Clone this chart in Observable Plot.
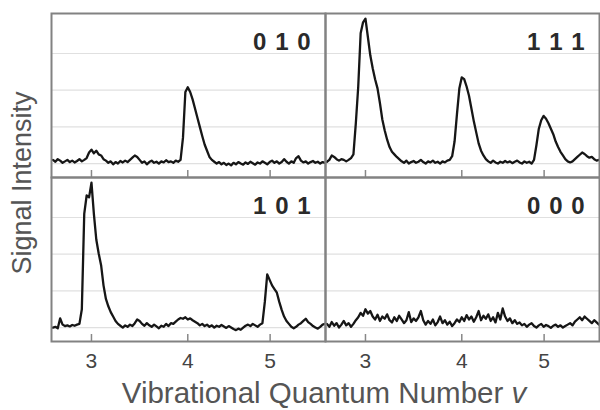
<!DOCTYPE html>
<html><head><meta charset="utf-8">
<script src="https://cdn.jsdelivr.net/npm/d3@7"></script>
<script src="https://cdn.jsdelivr.net/npm/@observablehq/plot@0.6"></script>
<style>
body{margin:0;background:#fff;}
#wrap{position:relative;width:600px;height:410px;font-family:"Liberation Sans",Arial,sans-serif;overflow:hidden;}
#ylab{position:absolute;left:22px;top:183px;transform:translate(-50%,-50%) rotate(-90deg);font-size:27px;color:#555;white-space:nowrap;line-height:1;}
#xlab{position:absolute;left:324px;top:375px;height:35px;line-height:35px;transform:translateX(-50%);font-size:29.5px;color:#555;white-space:nowrap;}
</style></head>
<body>
<div id="wrap">
<div id="chart"></div>
<div id="ylab">Signal Intensity</div>
<div id="xlab">Vibrational Quantum Number <i>v</i></div>
</div>
<script>
// Sampling of the traces along the x axis
const xStart = 2.6, xStep = 0.025;

const panelNames = ["0 1 0", "1 1 1", "1 0 1", "0 0 0"];
const panelCol = [0, 1, 0, 1];
const panelRow = [0, 0, 1, 1];

const signal010 = [1.10,1.05,1.12,1.08,1.02,1.06,1.10,1.04,1.08,1.03,1.07,1.12,1.06,1.10,1.15,
  1.30,1.38,1.28,1.35,1.25,1.22,
  1.12,1.08,1.02,1.06,0.98,1.04,1.00,1.07,1.03,1.08,1.04,1.10,1.16,
  1.22,1.18,1.10,
  1.02,1.06,0.98,1.04,1.08,1.02,1.05,1.00,1.06,1.03,1.09,1.04,1.06,1.02,1.08,1.05,1.10,
  1.70,2.95,3.08,2.95,2.75,2.50,2.25,2.00,1.75,1.52,1.35,1.18,1.10,
  1.05,1.00,1.04,0.98,1.02,0.96,1.00,0.95,1.02,0.98,1.04,1.00,0.97,1.03,0.99,1.05,1.01,0.97,1.03,1.00,
  1.06,1.02,0.98,1.04,1.08,1.02,1.06,1.00,1.04,1.12,1.05,1.00,1.06,1.02,1.15,1.20,1.08,1.03,1.06,1.00,
  1.04,1.07,1.02,1.05,1.00,1.04,1.02];

const signal111 = [1.05,1.10,1.22,1.18,1.12,1.08,1.12,1.10,1.06,1.10,1.15,
  1.25,2.10,3.10,4.55,4.85,4.95,4.45,3.95,3.60,3.30,3.05,2.65,2.20,1.90,1.65,1.45,1.32,1.25,1.18,1.12,
  1.06,1.02,1.08,1.00,1.04,1.07,1.02,1.05,1.10,1.04,1.00,1.06,1.03,1.08,1.02,1.05,1.00,1.06,1.03,1.08,1.10,
  1.20,1.60,2.35,3.05,3.35,3.30,3.10,2.85,2.50,2.15,1.85,1.55,1.35,1.22,1.12,
  1.06,1.02,1.08,1.03,1.00,1.05,1.02,1.07,1.03,1.06,1.01,1.05,1.08,1.03,1.00,1.06,1.02,1.05,1.00,1.10,
  1.50,1.95,2.18,2.30,2.22,2.10,1.95,1.80,1.60,1.45,1.32,1.22,1.12,1.06,1.03,1.06,1.12,1.18,1.24,1.30,
  1.26,1.20,1.16,1.18,1.12,1.08,1.10];

const signal101 = [1.00,1.02,0.98,1.25,1.08,1.04,1.06,1.03,1.07,1.05,1.08,1.10,
  1.50,4.10,4.60,4.55,4.95,4.10,3.40,3.02,2.70,2.15,1.78,1.58,1.42,1.30,1.18,1.10,1.05,
  1.00,1.06,1.02,1.08,1.04,1.12,1.22,1.18,1.10,1.05,1.12,1.06,1.02,1.08,1.03,0.98,1.05,1.02,1.10,1.04,1.12,
  1.10,1.16,1.22,1.26,1.24,1.28,1.22,1.25,1.20,1.16,1.12,
  1.06,1.10,1.04,1.08,1.02,1.06,1.00,1.05,1.02,1.07,1.03,0.99,1.04,1.00,
  0.96,0.93,0.97,0.94,1.00,
  1.05,1.08,1.04,1.10,1.06,1.02,1.08,1.12,
  1.70,2.45,2.30,2.15,2.05,1.95,1.70,1.48,1.30,1.18,1.10,1.02,0.98,1.02,1.08,1.12,1.18,1.24,1.15,1.10,
  1.04,1.00,0.97,1.02,1.08,1.10];

const signal000 = [1.10,1.02,1.15,1.05,1.12,1.00,1.08,1.18,1.06,1.12,1.02,1.10,1.20,1.28,
  1.40,1.32,1.50,1.38,1.45,1.30,
  1.22,1.35,1.18,1.30,1.24,1.36,1.20,1.14,1.28,1.18,1.32,1.22,1.12,1.20,1.42,1.15,1.25,1.18,1.28,1.45,
  1.20,1.08,1.18,1.10,1.22,1.06,1.15,1.30,1.12,1.20,1.08,1.16,1.04,1.12,1.22,1.15,
  1.28,1.18,1.34,1.22,1.30,1.16,1.28,1.45,1.20,1.32,1.24,1.36,1.18,1.28,1.14,1.40,1.22,1.52,1.30,1.18,1.25,1.12,1.20,1.10,
  1.14,1.06,1.10,1.02,1.08,1.12,1.04,1.00,1.06,1.10,1.02,1.07,1.04,0.99,1.05,1.08,1.02,1.06,1.00,1.04,1.08,1.12,1.06,1.16,1.22,
  1.28,1.20,1.30,1.24,1.18,1.12,1.20,1.14,1.08];

const levelPositions = [3, 4, 4.855];
const levelLabels = ["3", "4", "5"];
const gridLevels = [1, 2, 3, 4];

const signals = [signal010, signal111, signal101, signal000];
const traces = signals.flatMap((s, p) => s.map((v, i) => ({
  x: xStart + i * xStep, y: v, col: panelCol[p], row: panelRow[p], panel: panelNames[p]
})));
const labels = panelNames.map((name, p) => ({name, col: panelCol[p], row: panelRow[p]}));

const H = 375, MT = 13, MB = 34;
const facetH = (H - MT - MB) / 2;

const chart = Plot.plot({
  width: 600, height: H,
  marginTop: MT, marginBottom: MB, marginLeft: 50, marginRight: 1,
  style: {background: "#fff", fontFamily: "Liberation Sans, Arial, sans-serif"},
  x: {domain: [2.585, 5.43], label: null},
  y: {domain: [0.62, 5.09], axis: null},
  fx: {domain: [0, 1], axis: null, padding: 0},
  fy: {domain: [0, 1], axis: null, padding: 0},
  marks: [
    Plot.ruleY(gridLevels, {y: d => d, stroke: "#e0e0e0", strokeWidth: 1.2}),
    Plot.tickX(levelPositions, {x: d => d, stroke: "#888", strokeWidth: 1.5, insetTop: facetH - 7}),
    Plot.line(traces, {x: "x", y: "y", fx: "col", fy: "row", z: "panel", stroke: "#161616", strokeWidth: 2.3, strokeLinejoin: "round"}),
    Plot.frame({stroke: "#828282", strokeWidth: 2}),
    Plot.text(labels, {fx: "col", fy: "row", text: "name", frameAnchor: "top-right", lineAnchor: "top",
      dx: -14, dy: 19, fontSize: 24, fontWeight: "bold", fill: "#2a2a2a"}),
    Plot.axisX(levelPositions, {tickSize: 0, tickPadding: 12, fontSize: 21, fill: "#444",
      tickFormat: d => levelLabels[levelPositions.indexOf(d)]})
  ]
});
chart.querySelectorAll('g[aria-label="text"] text').forEach(t => t.setAttribute("letter-spacing", "1"));
document.getElementById("chart").appendChild(chart);
</script>
</body></html>
